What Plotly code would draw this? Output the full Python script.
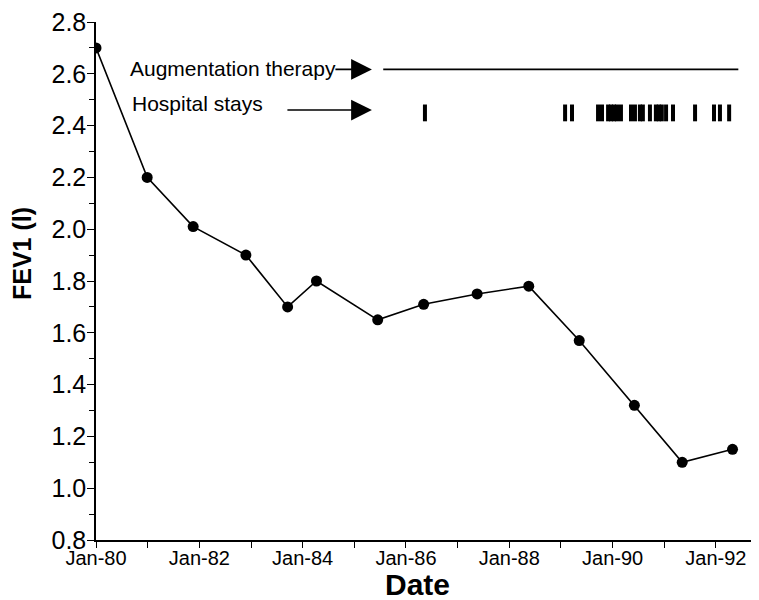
import plotly.graph_objects as go

# FEV1 measurements
dates = ["1980-01-01", "1980-12-28", "1981-11-18", "1982-11-26", "1983-09-17",
         "1984-04-08", "1985-06-15", "1986-05-06", "1987-05-19", "1988-05-18",
         "1989-05-10", "1990-06-04", "1991-05-08", "1992-04-28"]
fev1 = [2.70, 2.20, 2.01, 1.90, 1.70, 1.80, 1.65, 1.71, 1.75, 1.78,
        1.57, 1.32, 1.10, 1.15]

# Augmentation therapy period
aug_dates = ["1985-07-24", "1992-06-08"]
aug_level = [2.617, 2.617]

# Hospital stays
hosp_dates = ["1986-05-15", "1989-01-30", "1989-03-20", "1989-09-20", "1989-10-18",
              "1989-11-30", "1989-12-21", "1990-01-11", "1990-02-01", "1990-03-01",
              "1990-05-11", "1990-06-08", "1990-07-13", "1990-08-03", "1990-09-22",
              "1990-11-03", "1990-11-24", "1990-12-15", "1991-01-14", "1991-03-04",
              "1991-08-07", "1991-12-19", "1992-01-30", "1992-04-04"]
hosp_level = 2.449

y_ticks = [0.8, 1.0, 1.2, 1.4, 1.6, 1.8, 2.0, 2.2, 2.4, 2.6, 2.8]

FONT = "Liberation Sans, Arial, sans-serif"

fig = go.Figure()
fig.add_trace(go.Scatter(x=dates, y=fev1, mode="lines+markers",
                         line=dict(color="black", width=1.6),
                         marker=dict(color="black", size=11), showlegend=False))
fig.add_trace(go.Scatter(x=aug_dates, y=aug_level, mode="lines",
                         line=dict(color="black", width=1.6), showlegend=False))
fig.add_trace(go.Scatter(x=hosp_dates, y=[hosp_level] * len(hosp_dates), mode="markers",
                         marker=dict(symbol="line-ns", size=12,
                                     line=dict(color="black", width=4)),
                         showlegend=False))

fig.add_annotation(x="1980-08-14", y=2.62, xref="x", yref="y", text="Augmentation therapy",
                   showarrow=False, xanchor="left", yanchor="middle",
                   font=dict(family=FONT, size=21, color="black"))
fig.add_annotation(x="1980-08-28", y=2.485, xref="x", yref="y", text="Hospital stays",
                   showarrow=False, xanchor="left", yanchor="middle",
                   font=dict(family=FONT, size=21, color="black"))
fig.add_annotation(x="1985-05-05", y=2.617, xref="x", yref="y", ax=-38, ay=0,
                   text="", showarrow=True, arrowhead=2, arrowsize=2.6, arrowwidth=1.6,
                   arrowcolor="black")
fig.add_annotation(x="1985-05-05", y=2.46, xref="x", yref="y", ax=-86, ay=0,
                   text="", showarrow=True, arrowhead=2, arrowsize=2.6, arrowwidth=1.6,
                   arrowcolor="black")

# axis titles
fig.add_annotation(x=0.486, y=-0.085, xref="paper", yref="paper", text="<b>Date</b>",
                   showarrow=False, xanchor="center", yanchor="middle",
                   font=dict(family=FONT, size=30, color="black"))
fig.add_annotation(x=-0.112, y=0.554, xref="paper", yref="paper", text="<b>FEV1 (l)</b>",
                   showarrow=False, xanchor="center", yanchor="middle", textangle=-90,
                   font=dict(family=FONT, size=25, color="black"))

fig.update_layout(
    width=751, height=592,
    margin=dict(l=88, r=2, t=14, b=60),
    paper_bgcolor="white", plot_bgcolor="white",
    font=dict(family=FONT, color="black"),
)
fig.update_xaxes(
    type="date", range=["1980-01-01", "1992-10-18"], automargin=False,
    dtick="M24", tick0="1980-01-01", tickformat="%b-%y",
    ticks="outside", ticklen=6, tickwidth=1.3, tickcolor="black",
    minor=dict(dtick="M12", ticks="outside", ticklen=6, tickwidth=1.3, tickcolor="black"),
    showline=True, linecolor="black", linewidth=1.5, showgrid=False, zeroline=False,
    tickfont=dict(family=FONT, size=20, color="black"), ticklabelstandoff=-7,
    ticklabeloverflow="allow",
)
fig.update_yaxes(
    range=[0.8, 2.8], tickvals=y_ticks, tickformat=".1f", automargin=False,
    ticks="outside", ticklen=7, tickwidth=1.3, tickcolor="black",
    minor=dict(dtick=0.1, ticks="outside", ticklen=5, tickwidth=1.3, tickcolor="black"),
    showline=True, linecolor="black", linewidth=1.5, showgrid=False, zeroline=False,
    tickfont=dict(family=FONT, size=25, color="black"), ticklabelstandoff=-4,
    ticklabeloverflow="allow",
)

fig.write_html("out.html")
